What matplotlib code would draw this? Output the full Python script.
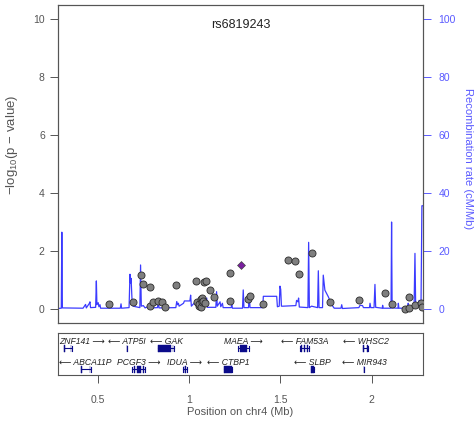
import matplotlib
matplotlib.use("Agg")
from matplotlib import pyplot as plt

plt.rcParams['font.family'] = ['Liberation Sans', 'DejaVu Sans']
plt.rcParams['mathtext.default'] = 'regular'

# SNP association results (position in Mb, -log10 p)
snp_pos = [0.564, 0.693, 0.735, 0.750, 0.785, 0.787, 0.805, 0.829, 0.851, 0.869,
           0.927, 1.040, 1.045, 1.053, 1.056, 1.064, 1.067, 1.070, 1.071, 1.078,
           1.086, 1.084, 1.095, 1.117, 1.135, 1.223, 1.226, 1.323, 1.336, 1.405,
           1.540, 1.579, 1.600, 1.671, 1.771, 1.930, 2.073, 2.109, 2.182, 2.202,
           2.204, 2.239, 2.272, 2.275]
snp_logp = [0.17, 0.23, 1.17, 0.87, 0.76, 0.10, 0.25, 0.29, 0.25, 0.08,
            0.84, 0.98, 0.25, 0.10, 0.17, 0.33, 0.08, 0.37, 0.23, 0.29,
            0.20, 0.92, 0.98, 0.66, 0.43, 1.26, 0.28, 0.36, 0.46, 0.16,
            1.68, 1.66, 1.20, 1.92, 0.24, 0.30, 0.54, 0.17, 0.00, 0.43,
            0.02, 0.13, 0.20, 0.06]
lead_name = 'rs6819243'
lead_pos = 1.283
lead_logp = 1.53

# recombination rate (cM/Mb)
rec_pos = [0.283, 0.301, 0.304, 0.307, 0.420, 0.434, 0.438, 0.455, 0.458, 0.461,
           0.489, 0.493, 0.496, 0.503, 0.507, 0.513, 0.516, 0.624, 0.628, 0.631,
           0.672, 0.677, 0.680, 0.683, 0.688, 0.694, 0.731, 0.735, 0.739, 0.750,
           0.760, 0.787, 0.795, 0.828, 0.832, 0.836, 0.928, 0.933, 0.938, 0.942,
           0.946, 0.970, 0.975, 1.005, 1.009, 1.013, 1.042, 1.047, 1.060, 1.064,
           1.097, 1.101, 1.147, 1.151, 1.155, 1.170, 1.174, 1.183, 1.187, 1.231,
           1.234, 1.238, 1.293, 1.297, 1.301, 1.326, 1.330, 1.334, 1.404, 1.407,
           1.480, 1.484, 1.494, 1.498, 1.502, 1.506, 1.516, 1.585, 1.589, 1.596,
           1.600, 1.604, 1.651, 1.655, 1.659, 1.671, 1.704, 1.708, 1.712, 1.731,
           1.735, 1.744, 1.763, 1.781, 1.795, 1.832, 1.836, 1.840, 1.930, 1.936,
           1.950, 1.955, 1.988, 1.991, 1.995, 2.013, 2.018, 2.022, 2.058, 2.060,
           2.063, 2.106, 2.109, 2.112, 2.144, 2.146, 2.149, 2.198, 2.200, 2.203,
           2.232, 2.237, 2.241, 2.255, 2.260, 2.265, 2.270, 2.275, 2.281]
rec_rate = [0.2, 0.3, 26.5, 0.4, 0.3, 1.6, 0.4, 2.0, 2.5, 0.5,
            0.6, 9.7, 1.5, 2.2, 0.8, 1.5, 0.3, 0.3, 1.8, 0.3,
            0.5, 12.0, 9.0, 10.6, 3.5, 1.0, 0.5, 15.2, 1.0, 1.2,
            0.4, 1.2, 0.4, 0.5, 3.2, 0.4, 0.5, 2.6, 1.5, 2.0,
            1.0, 2.0, 2.8, 2.8, 4.8, 1.0, 3.0, 1.0, 4.2, 1.0,
            3.8, 0.6, 0.6, 6.0, 1.0, 2.5, 0.8, 2.0, 0.5, 0.5,
            1.5, 0.3, 0.3, 6.6, 0.5, 0.5, 5.4, 0.5, 0.5, 4.4,
            4.4, 0.8, 1.0, 7.9, 6.8, 1.0, 1.0, 1.2, 3.0, 2.5,
            3.8, 0.7, 0.5, 23.0, 0.5, 1.0, 0.5, 13.2, 0.5, 0.5,
            11.7, 6.5, 4.2, 1.5, 0.3, 0.3, 1.5, 0.2, 0.5, 1.3,
            1.2, 0.5, 0.5, 2.0, 0.5, 0.5, 8.5, 0.6, 0.3, 1.3,
            0.3, 0.3, 30.0, 0.4, 0.3, 2.0, 0.3, 0.3, 2.0, 0.3,
            0.5, 19.2, 0.5, 1.0, 3.0, 1.0, 0.8, 35.6, 35.6]

# genes: name, start, end, strand, row, exon blocks
gene_name = ['ZNF141', 'ATP5I', 'GAK', 'MAEA', 'FAM53A', 'WHSC2',
             'ABCA11P', 'PCGF3', 'IDUA', 'CTBP1', 'SLBP', 'MIR943']
gene_start = [0.316, 0.658, 0.832, 1.270, 1.607, 1.954,
              0.407, 0.690, 0.969, 1.192, 1.666, 1.957]
gene_end = [0.358, 0.661, 0.918, 1.328, 1.659, 1.982,
            0.462, 0.759, 0.987, 1.237, 1.686, 1.959]
gene_strand = ['+', '-', '-', '+', '-', '-', '-', '+', '+', '-', '-', '-']
gene_row = [0, 0, 0, 0, 0, 0, 1, 1, 1, 1, 1, 1]
gene_exons = [[(0.318, 0.322), (0.352, 0.356)], [(0.658, 0.661)], [(0.832, 0.900), (0.910, 0.914)],
              [(1.282, 1.318)], [(1.612, 1.618), (1.628, 1.636), (1.645, 1.652)], [(1.955, 1.960), (1.975, 1.980)],
              [(0.409, 0.413), (0.456, 0.460)], [(0.700, 0.706), (0.718, 0.736), (0.748, 0.755)],
              [(0.970, 0.975), (0.980, 0.986)], [(1.193, 1.236)], [(1.667, 1.685)], [(1.957, 1.959)]]

xlim = (0.283, 2.281)
grey = '#555555'
rec_col = '#3b3bff'

fig = plt.figure(figsize=(4.77, 4.28), dpi=100)
ax = fig.add_axes([58/477, 1-323/428, 365/477, 318/428])
ax2 = ax.twinx()
gax = fig.add_axes([58/477, 1-375/428, 365/477, 42/428])

# recombination on the right axis, drawn below the points
ax2.plot(rec_pos, rec_rate, color=rec_col, lw=0.9)
ax2.set_ylim(-4.8, 104.8)
ax2.set_yticks([0, 20, 40, 60, 80, 100])
ax2.tick_params(axis='y', colors='#5a5aff', labelsize=7.5, length=6, width=0.7, pad=5)
ax.set_zorder(ax2.get_zorder() + 1)
ax.patch.set_visible(False)

ax.scatter(snp_pos, snp_logp, s=26, c='#7f7f7f', edgecolors='#2b2b2b', linewidths=0.6, zorder=3)
ax.scatter([lead_pos], [lead_logp], s=16, marker='D', c='#7a1fa0', edgecolors='#444444',
           linewidths=0.5, zorder=4)
ax.text(lead_pos, 9.78, lead_name, ha='center', va='center', fontsize=9, color='#222222')

ax.set_xlim(xlim)
ax.set_ylim(-0.48, 10.48)
ax.set_yticks([0, 2, 4, 6, 8, 10])
ax.set_xticks([])
ax.tick_params(axis='y', colors=grey, labelsize=7.5, length=5.5, width=0.7, pad=4)
for a in (ax, ax2):
    for s in a.spines.values():
        s.set_color(grey)
        s.set_linewidth(0.8)

fig.text(12.5/477, 1-145/428, '\u2212log$_{10}$(p \u2212 value)', rotation=90,
         ha='center', va='center', fontsize=9.5, color=grey)
fig.text(468/477, 1-159/428, 'Recombination rate (cM/Mb)', rotation=270,
         ha='center', va='center', fontsize=8, color='#5a5aff')

# gene track
gene_col = '#0b0b8a'
row_y = [0.636, 0.136]
lab_y = [0.79, 0.29]
for i in range(len(gene_name)):
    y = row_y[gene_row[i]]
    gax.plot([gene_start[i], gene_end[i]], [y, y], color=gene_col, lw=0.8)
    gax.plot([gene_start[i]] * 2, [y - 0.06, y + 0.06], color=gene_col, lw=0.8)
    gax.plot([gene_end[i]] * 2, [y - 0.06, y + 0.06], color=gene_col, lw=0.8)
    for e0, e1 in gene_exons[i]:
        gax.fill_between([e0, e1], y - 0.08, y + 0.08, color=gene_col, lw=0.3)
    if gene_strand[i] == '+':
        lab = gene_name[i] + ' \u27f6'
    else:
        lab = '\u27f5 ' + gene_name[i]
    xc = (gene_start[i] + gene_end[i]) / 2
    if xc < 0.412:
        xc = 0.412
    gax.text(xc, lab_y[gene_row[i]], lab, ha='center', va='center', fontsize=6.2,
             style='italic', color='#222222')

gax.set_xlim(xlim)
gax.set_ylim(0, 1)
gax.set_yticks([])
gax.set_xticks([0.5, 1, 1.5, 2])
gax.set_xticklabels(['0.5', '1', '1.5', '2'])
gax.tick_params(axis='x', colors=grey, labelsize=7.5, length=5.5, width=0.7, pad=9)
for s in gax.spines.values():
    s.set_color(grey)
    s.set_linewidth(0.8)
gax.set_xlabel('Position on chr4 (Mb)', fontsize=8, color=grey, labelpad=1)

fig.savefig('out.png', dpi=100)
